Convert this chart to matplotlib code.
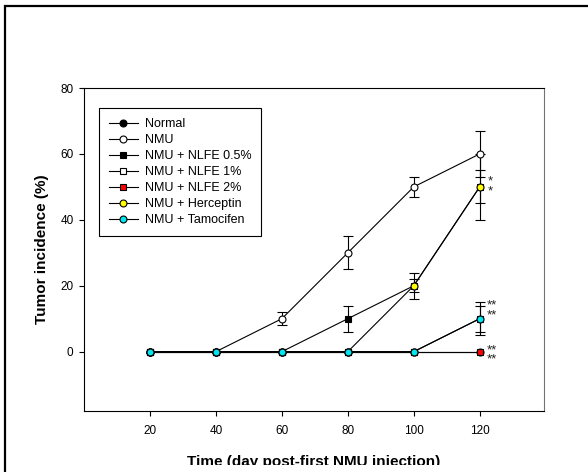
import matplotlib
matplotlib.use('Agg')
import matplotlib.pyplot as plt
import numpy as np
from matplotlib.patches import Rectangle

plt.rcParams['font.family'] = ['Liberation Sans', 'DejaVu Sans']

# ---- data ----
days = [20, 40, 60, 80, 100, 120]
normal = [0, 0, 0, 0, 0, 0]
normal_err = [0, 0, 0, 0, 0, 0]
nmu = [0, 0, 10, 30, 50, 60]
nmu_err = [0, 0, 2, 5, 3, 7]
nlfe05 = [0, 0, 0, 10, 20, 50]
nlfe05_err = [0, 0, 0, 4, 4, 5]
nlfe1 = [0, 0, 0, 0, 0, 10]
nlfe1_err = [0, 0, 0, 0, 0, 4]
nlfe2 = [0, 0, 0, 0, 0, 0]
nlfe2_err = [0, 0, 0, 0, 0, 0]
herceptin = [0, 0, 0, 0, 20, 50]
herceptin_err = [0, 0, 0, 0, 2, 10]
tamocifen = [0, 0, 0, 0, 0, 10]
tamocifen_err = [0, 0, 0, 0, 0, 5]

labels = ['Normal', 'NMU', 'NMU + NLFE 0.5%', 'NMU + NLFE 1%', 'NMU + NLFE 2%',
          'NMU + Herceptin', 'NMU + Tamocifen']
yticks = [0, 20, 40, 60, 80]
star_values = [50, 10, 0]
star_texts = ['*\n*', '**\n**', '**\n**']

series = [
    (normal, normal_err, 'o', 'black'),
    (nmu, nmu_err, 'o', 'white'),
    (nlfe05, nlfe05_err, 's', 'black'),
    (nlfe1, nlfe1_err, 's', 'white'),
    (nlfe2, nlfe2_err, 's', '#ff0000'),
    (herceptin, herceptin_err, 'o', '#ffff00'),
    (tamocifen, tamocifen_err, 'o', '#00e5ee'),
]

fig = plt.figure(figsize=(5.88, 4.72), dpi=100)
ax = fig.add_axes([84/588, 1-411/472, 460/588, 323/472])

x = np.array(days)
for i, ((vals, errs, mk, fc), lab) in enumerate(zip(series, labels)):
    v = np.array(vals, dtype=float)
    e = np.array(errs, dtype=float)
    m = e > 0
    if m.any():
        ax.errorbar(x[m], v[m], yerr=e[m], fmt='none', ecolor='black',
                    elinewidth=0.8, capsize=3.6, capthick=0.8, zorder=2)
    ax.plot(x, v, color='black', lw=0.8, marker=mk, ms=5, mfc=fc, mec='black',
            mew=0.8, label=lab, zorder=3 + i * 0.1)

ax.set_xlim(0, 139.5)
ax.set_ylim(-18, 80)
ax.set_xticks(days)
ax.set_yticks(yticks)
ax.tick_params(direction='out', length=3.5, width=0.8, labelsize=8.5, colors='black')
ax.tick_params(axis='x', pad=6.5)
ax.tick_params(axis='y', pad=4)
for s in ax.spines.values():
    s.set_linewidth(0.8)
ax.spines['right'].set_color('0.45')

ax.set_xlabel('Time (day post-first NMU injection)', fontsize=11, fontweight='bold')
ax.xaxis.label.set_va('baseline')
ax.xaxis.set_label_coords(0.5, (411-466)/323)
ax.set_ylabel('Tumor incidence (%)', fontsize=11, fontweight='bold')
ax.yaxis.label.set_va('center')
ax.yaxis.set_label_coords((42-84)/460, 0.5)

# significance asterisks (two stacked lines per group)
offsets = {50: (7.9, -5.1), 10: (8.6, 0.2), 0: (8.6, -8.0)}
for val, txt in zip(star_values, star_texts):
    dx, dy = offsets[val]
    ax.annotate(txt, xy=(days[-1], val), xytext=(dx, dy), textcoords='offset points',
                ha='center', va='baseline', fontsize=9.5, color='#222222',
                linespacing=0.75)

leg = ax.legend(loc='upper left', bbox_to_anchor=(15/460, (411-108)/323), borderaxespad=0,
                fontsize=9, frameon=True, fancybox=False, edgecolor='black', framealpha=1,
                borderpad=0.8, handlelength=2.3, handletextpad=0.55, labelspacing=0.32,
                numpoints=1)
leg.get_frame().set_linewidth(0.8)

# outer frame
fig.add_artist(Rectangle((5/588, -0.5), 2.0, (1 - 6/472) + 0.5, fill=False,
                         edgecolor='black', lw=1.6, transform=fig.transFigure, clip_on=False))
# cropped bottom band
fig.add_artist(Rectangle((8/588, 0), 1.0, 7/472, facecolor='white', edgecolor='none',
                         transform=fig.transFigure, zorder=10))

fig.savefig('out.png', dpi=100)
